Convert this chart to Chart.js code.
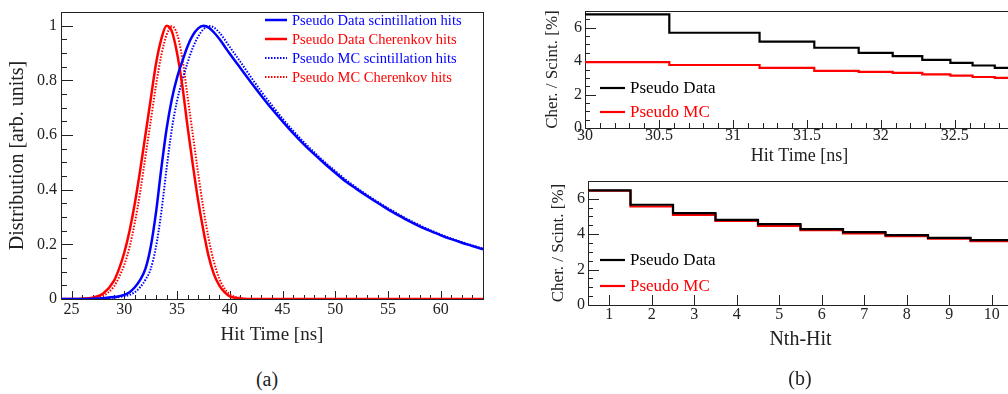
<!DOCTYPE html>
<html>
<head>
<meta charset="utf-8">
<script src="https://cdn.jsdelivr.net/npm/chart.js@4.4.1/dist/chart.umd.min.js"></script>
<style>
  html, body { margin: 0; overflow: hidden; background: #fff; }
  body { width: 1008px; height: 394px; position: relative; font-family: "Liberation Serif", "Times New Roman", serif; }
  canvas { position: absolute; }
  #distChart { left: 0; top: 0; }
  #timeChart { left: 500px; top: 0; }
  #nthChart { left: 500px; top: 170px; }
  .tag { position: absolute; font-size: 20px; line-height: 20px; color: #222; transform: translateX(-50%); }
</style>
</head>
<body>
<canvas id="distChart" width="500" height="360"></canvas>
<canvas id="timeChart" width="530" height="170"></canvas>
<canvas id="nthChart" width="530" height="224"></canvas>
<div class="tag" style="left:267px; top:369px">(a)</div>
<div class="tag" style="left:800px; top:368px">(b)</div>

<script>
// (a) hit time distributions, normalised to peak
const hitTime = [24, 25, 26, 27, 28, 29,
  29.5, 30, 30.5, 31, 31.5, 32, 32.5, 33, 33.5, 34, 34.5, 35, 35.5, 36, 36.5, 37, 37.5, 38, 38.5, 39, 39.5, 40,
  41, 42, 43, 44, 45, 46, 47, 48, 49, 50, 51, 52, 53, 54, 55, 56, 57, 58, 59, 60, 61, 62, 63, 64];

const dataScint = [0, 0, 0, 0.001, 0.003, 0.007,
  0.01, 0.015, 0.025, 0.043, 0.07, 0.11, 0.19, 0.315, 0.475, 0.62, 0.73, 0.81, 0.87, 0.925, 0.965, 0.99, 1.0, 0.993, 0.975, 0.952, 0.925, 0.897,
  0.845, 0.793, 0.743, 0.695, 0.65, 0.607, 0.567, 0.53, 0.495, 0.462, 0.43, 0.403, 0.377, 0.352, 0.328, 0.306, 0.285, 0.266, 0.249, 0.233, 0.219, 0.206, 0.194, 0.182];

const dataCher = [0, 0, 0.001, 0.005, 0.02, 0.065,
  0.11, 0.17, 0.25, 0.35, 0.47, 0.6, 0.73, 0.86, 0.95, 1.0, 0.98, 0.9, 0.78, 0.63, 0.49, 0.36, 0.25, 0.155, 0.09, 0.05, 0.025, 0.01,
  0.002, 0, 0, 0, 0, 0, 0, 0, 0, 0, 0, 0, 0, 0, 0, 0, 0, 0, 0, 0, 0, 0, 0, 0];

const mcScint = [0, 0, 0, 0, 0.002, 0.005,
  0.007, 0.01, 0.015, 0.025, 0.043, 0.07, 0.11, 0.19, 0.315, 0.475, 0.62, 0.725, 0.8, 0.865, 0.92, 0.96, 0.987, 0.999, 0.993, 0.975, 0.95, 0.922,
  0.868, 0.812, 0.758, 0.708, 0.66, 0.616, 0.575, 0.537, 0.501, 0.468, 0.436, 0.408, 0.381, 0.356, 0.332, 0.31, 0.289, 0.27, 0.252, 0.236, 0.221, 0.208, 0.196, 0.184];

const mcCher = [0, 0, 0, 0.003, 0.012, 0.045,
  0.08, 0.125, 0.19, 0.28, 0.39, 0.52, 0.65, 0.78, 0.89, 0.965, 0.998, 0.97, 0.88, 0.74, 0.6, 0.46, 0.33, 0.22, 0.135, 0.075, 0.038, 0.017,
  0.004, 0, 0, 0, 0, 0, 0, 0, 0, 0, 0, 0, 0, 0, 0, 0, 0, 0, 0, 0, 0, 0, 0, 0];

const distXTicks = [25, 30, 35, 40, 45, 50, 55, 60];
const distYTicks = [0, 0.2, 0.4, 0.6, 0.8, 1];

// (b) top: Cher./Scint. ratio in hit time bins (variable width)
const timeEdges = [30, 30.57, 31.18, 31.55, 31.85, 32.08, 32.28, 32.47, 32.62, 32.77, 32.9];
const timeRatioData = [6.8, 5.7, 5.17, 4.8, 4.5, 4.3, 4.08, 3.9, 3.74, 3.6];
const timeRatioMC = [3.94, 3.77, 3.6, 3.42, 3.36, 3.3, 3.21, 3.13, 3.05, 3.0];
const timeXTicks = [30, 30.5, 31, 31.5, 32, 32.5];

// (b) bottom: ratio vs Nth hit
const nthEdges = [0.5, 1.5, 2.5, 3.5, 4.5, 5.5, 6.5, 7.5, 8.5, 9.5, 10.5];
const nthRatioData = [6.47, 5.66, 5.19, 4.81, 4.57, 4.28, 4.11, 3.94, 3.79, 3.66];
const nthRatioMC = [6.45, 5.56, 5.09, 4.75, 4.47, 4.23, 4.04, 3.89, 3.75, 3.6];
const nthXTicks = [1, 2, 3, 4, 5, 6, 7, 8, 9, 10];

const ratioYTicks = [0, 2, 4, 6];

const BLUE = '#0000ff';
const RED = '#ff0000';
const INK = '#222';
const SERIF = '"Liberation Serif", "Times New Roman", serif';

Chart.defaults.font.family = SERIF;
Chart.defaults.color = INK;
Chart.defaults.animation = false;

function curve(xs, ys) {
  return xs.map((x, i) => ({ x: x, y: ys[i] }));
}

// histogram outline: one point per bin left edge, plus the last right edge
function stepPoints(edges, vals) {
  const pts = vals.map((v, i) => ({ x: edges[i], y: v }));
  pts.push({ x: edges[edges.length - 1], y: vals[vals.length - 1] });
  return pts;
}

function drawTicks(ctx, scale, t, horizontal, a) {
  const first = Math.ceil(scale.min / t.step - 1e-6);
  const last = Math.floor(scale.max / t.step + 1e-6);
  ctx.beginPath();
  for (let i = first; i <= last; i++) {
    const len = i % t.every === 0 ? t.major : t.minor;
    const p = Math.round(scale.getPixelForValue(i * t.step)) + 0.5;
    if (horizontal) {
      ctx.moveTo(p, a.bottom);
      ctx.lineTo(p, a.bottom - len);
    } else {
      ctx.moveTo(a.left, p);
      ctx.lineTo(a.left + len, p);
    }
  }
  ctx.stroke();
}

// ROOT style frame with ticks pointing inwards
const rootFrame = {
  id: 'rootFrame',
  beforeDatasetsDraw(chart, args, o) {
    const { ctx, chartArea: a, scales } = chart;
    ctx.save();
    ctx.strokeStyle = INK;
    ctx.lineWidth = 1;
    ctx.strokeRect(Math.round(a.left) + 0.5, Math.round(a.top) + 0.5,
      Math.round(a.right - a.left), Math.round(a.bottom - a.top));
    drawTicks(ctx, scales.x, o.x, true, a);
    drawTicks(ctx, scales.y, o.y, false, a);
    ctx.restore();
  }
};

// legend drawn inside the frame
const boxLegend = {
  id: 'boxLegend',
  afterDraw(chart, args, o) {
    const ctx = chart.ctx;
    ctx.save();
    ctx.font = o.font;
    ctx.textBaseline = 'middle';
    chart.data.datasets.forEach((ds, i) => {
      const y = o.y + i * o.rowH;
      ctx.strokeStyle = ds.borderColor;
      ctx.lineWidth = ds.borderWidth;
      ctx.setLineDash(ds.borderDash || []);
      ctx.beginPath();
      ctx.moveTo(o.x, y);
      ctx.lineTo(o.x + o.lineW, y);
      ctx.stroke();
      ctx.setLineDash([]);
      ctx.fillStyle = ds.borderColor;
      ctx.fillText(ds.label, o.x + o.lineW + o.gap, y + 1);
    });
    ctx.restore();
  }
};

function fixedTicks(list) {
  return (scale) => { scale.ticks = list.map((v) => ({ value: v })); };
}

function axis(opts) {
  return {
    type: 'linear',
    position: opts.position,
    min: opts.min,
    max: opts.max,
    grid: { display: false, drawTicks: false },
    border: { display: false },
    afterBuildTicks: fixedTicks(opts.ticks),
    afterFit: (scale) => {
      if (opts.position === 'left') scale.width = opts.size;
      else scale.height = opts.size;
    },
    ticks: {
      padding: opts.tickPad,
      maxRotation: 0,
      autoSkip: false,
      font: { family: SERIF, size: 16, lineHeight: 1 },
      color: INK,
      callback: (v) => String(Number(v.toFixed(2)))
    },
    title: {
      display: true,
      text: opts.title,
      font: { family: SERIF, size: opts.titleSize },
      color: INK,
      padding: opts.titlePad
    }
  };
}

// ---------- (a) ----------
const curveStyle = { pointRadius: 0, fill: false, cubicInterpolationMode: 'monotone' };

new Chart(document.getElementById('distChart'), {
  type: 'line',
  data: {
    datasets: [
      { ...curveStyle, label: 'Pseudo Data scintillation hits', data: curve(hitTime, dataScint), borderColor: BLUE, borderWidth: 2.5 },
      { ...curveStyle, label: 'Pseudo Data Cherenkov hits', data: curve(hitTime, dataCher), borderColor: RED, borderWidth: 2.5 },
      { ...curveStyle, label: 'Pseudo MC scintillation hits', data: curve(hitTime, mcScint), borderColor: BLUE, borderWidth: 2, borderDash: [1.5, 1.5] },
      { ...curveStyle, label: 'Pseudo MC Cherenkov hits', data: curve(hitTime, mcCher), borderColor: RED, borderWidth: 2, borderDash: [1.5, 1.5] }
    ]
  },
  options: {
    responsive: false,
    devicePixelRatio: 1,
    layout: { padding: { left: 0, top: 5, right: 17, bottom: 0 } },
    scales: {
      x: axis({ position: 'bottom', min: 24, max: 64, ticks: distXTicks, size: 61, tickPad: 3,
        title: 'Hit Time [ns]', titleSize: 19, titlePad: { top: 0, bottom: 14 } }),
      y: axis({ position: 'left', min: 0, max: 1.05, ticks: distYTicks, size: 61, tickPad: 4,
        title: 'Distribution [arb. units]', titleSize: 20, titlePad: { top: 6, bottom: 0 } })
    },
    plugins: {
      legend: { display: false },
      tooltip: { enabled: false },
      rootFrame: { x: { step: 1, every: 5, major: 8, minor: 4 }, y: { step: 0.05, every: 4, major: 12, minor: 6 } },
      boxLegend: { x: 265, y: 20, rowH: 19, lineW: 22, gap: 5, font: '14.5px ' + SERIF }
    }
  },
  plugins: [rootFrame, boxLegend]
});

// ---------- (b) ----------
// 'before' in Chart.js = hold the previous value, then jump at the next edge
const stepStyle = { pointRadius: 0, fill: false, stepped: 'before', borderWidth: 2.2 };

function ratioChart(id, cfg) {
  return new Chart(document.getElementById(id), {
    type: 'line',
    data: {
      datasets: [
        { ...stepStyle, label: 'Pseudo Data', data: stepPoints(cfg.edges, cfg.data), borderColor: '#000' },
        { ...stepStyle, label: 'Pseudo MC', data: stepPoints(cfg.edges, cfg.mc), borderColor: RED }
      ]
    },
    options: {
      responsive: false,
      devicePixelRatio: 1,
      layout: { padding: cfg.padding },
      scales: {
        x: axis({ position: 'bottom', min: cfg.edges[0], max: cfg.edges[cfg.edges.length - 1], ticks: cfg.xTicks,
          size: cfg.xSize, tickPad: cfg.xPad, title: cfg.xTitle, titleSize: cfg.xTitleSize, titlePad: { top: 0, bottom: cfg.xTitlePad } }),
        y: axis({ position: 'left', min: 0, max: 7, ticks: ratioYTicks, size: cfg.ySize, tickPad: 3,
          title: 'Cher. / Scint. [%]', titleSize: 17, titlePad: { top: cfg.yTitlePad, bottom: 0 } })
      },
      plugins: {
        legend: { display: false },
        tooltip: { enabled: false },
        rootFrame: { x: cfg.xMarks, y: { step: 0.5, every: 4, major: 11, minor: 5 } },
        boxLegend: { x: 100, y: cfg.legendY, rowH: cfg.legendRow, lineW: 25, gap: 5, font: '17px ' + SERIF }
      }
    },
    plugins: [rootFrame, boxLegend]
  });
}

ratioChart('timeChart', {
  edges: timeEdges, data: timeRatioData, mc: timeRatioMC, xTicks: timeXTicks,
  padding: { left: 0, top: 7, right: 16, bottom: 0 },
  xSize: 42, xPad: 0, xTitle: 'Hit Time [ns]', xTitleSize: 18, xTitlePad: 3,
  ySize: 85, yTitlePad: 42,
  xMarks: { step: 0.1, every: 5, major: 8, minor: 5 },
  legendY: 88, legendRow: 24
});

ratioChart('nthChart', {
  edges: nthEdges, data: nthRatioData, mc: nthRatioMC, xTicks: nthXTicks,
  padding: { left: 0, top: 11, right: 17, bottom: 0 },
  xSize: 89, xPad: 2, xTitle: 'Nth-Hit', xTitleSize: 20, xTitlePad: 42,
  ySize: 88, yTitlePad: 48,
  xMarks: { step: 1, every: 1, major: 10, minor: 10 },
  legendY: 90, legendRow: 26
});
</script>
</body>
</html>
